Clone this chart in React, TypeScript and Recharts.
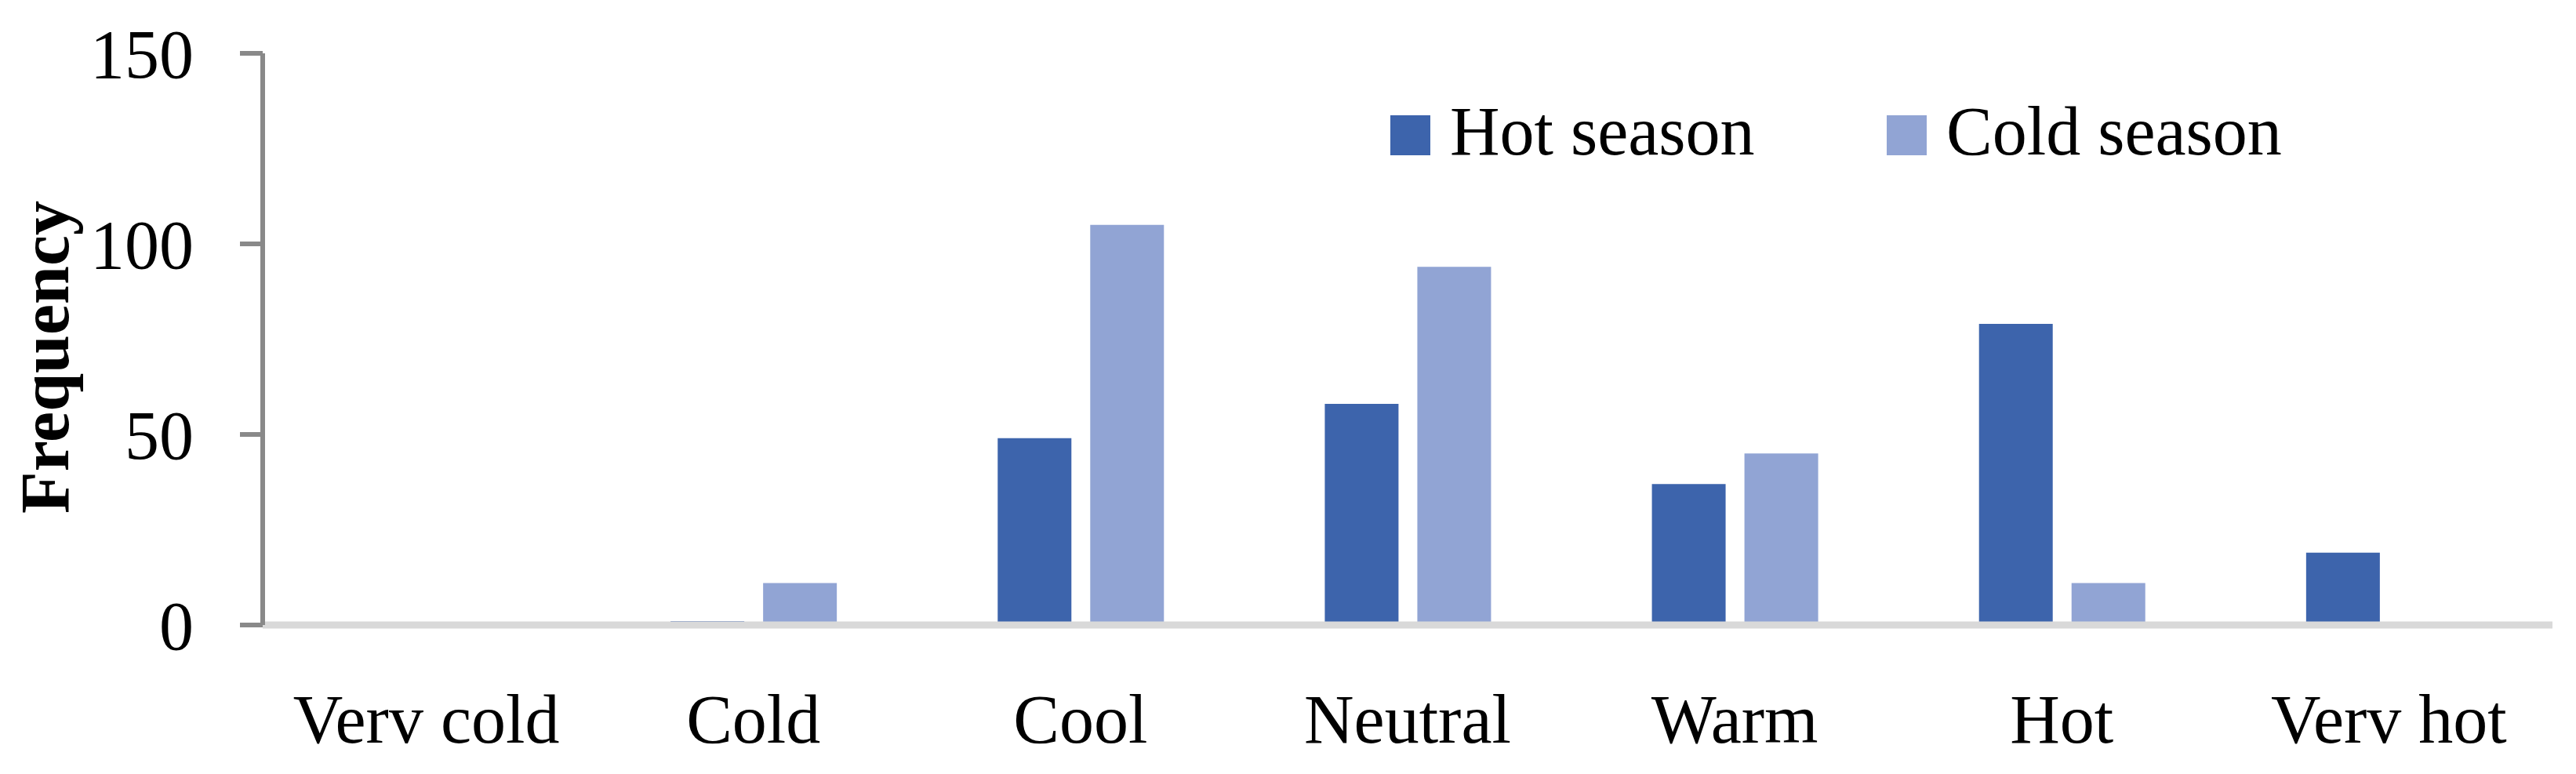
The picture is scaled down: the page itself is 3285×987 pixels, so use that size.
import React from 'react';
import { BarChart, Bar, XAxis, YAxis, Legend, Label } from 'recharts';

const categories = ['Verv cold', 'Cold', 'Cool', 'Neutral', 'Warm', 'Hot', 'Verv hot'];
const hotSeason = [0, 1, 49, 58, 37, 79, 19];
const coldSeason = [0, 11, 105, 94, 45, 11, 0];
const yTicks = [0, 50, 100, 150];
const seriesNames = ['Hot season', 'Cold season'];

const HOT = '#3D64AC';
const COLD = '#91A4D4';
const FONT = '"Liberation Serif", "Times New Roman", serif';

const data = categories.map((name, i) => ({
  name,
  hot: hotSeason[i],
  cold: coldSeason[i],
}));

const FreqLabel = (props: any) => {
  const vb = props.viewBox || { y: 68, height: 729 };
  const x = 87;
  const y = vb.y + vb.height / 2 + 23;
  return (
    <text
      x={x}
      y={y}
      transform={`rotate(-90 ${x} ${y})`}
      textAnchor="middle"
      fontFamily={FONT}
      fontWeight="bold"
      fontSize={88}
      fill="#000"
    >
      Frequency
    </text>
  );
};

const LegendBox = () => {
  const items = [
    { label: seriesNames[0], color: HOT, left: 1773 },
    { label: seriesNames[1], color: COLD, left: 2406 },
  ];
  return (
    <div style={{ position: 'relative', height: 0 }}>
      {items.map((it) => (
        <div
          key={it.label}
          style={{
            position: 'absolute',
            left: it.left,
            top: 128,
            height: 88,
            display: 'flex',
            alignItems: 'center',
            whiteSpace: 'nowrap',
          }}
        >
          <span style={{ width: 51, height: 51, background: it.color, marginRight: 25, display: 'inline-block' }} />
          <span style={{ fontFamily: FONT, fontSize: 88, lineHeight: 1, color: '#000', position: 'relative', top: -4 }}>
            {it.label}
          </span>
        </div>
      ))}
    </div>
  );
};

export default function App() {
  return (
    <div style={{ width: 3285, height: 987, background: '#fff' }}>
      <style>{`body{margin:0;background:#fff}`}</style>
      <BarChart
        width={3285}
        height={987}
        data={data}
        margin={{ top: 68, right: 30, bottom: 0, left: 0 }}
        barSize={94}
        barGap={24}
      >
        <XAxis
          dataKey="name"
          interval={0}
          height={190}
          axisLine={{ stroke: '#D9D9D9', strokeWidth: 9 }}
          tickLine={false}
          tickSize={0}
          tickMargin={88}
          tick={{ fontSize: 88, fill: '#000', fontFamily: FONT }}
        />
        <YAxis
          width={335}
          domain={[0, 150]}
          ticks={yTicks}
          interval={0}
          axisLine={{ stroke: '#898989', strokeWidth: 6 }}
          tickLine={{ stroke: '#898989', strokeWidth: 6 }}
          tickSize={29}
          tickMargin={59}
          tick={{ fontSize: 88, fill: '#000', fontFamily: FONT }}
        >
          <Label content={<FreqLabel />} />
        </YAxis>
        <Legend content={<LegendBox />} wrapperStyle={{ left: 0, top: 0, width: 3285, height: 0 }} />
        <Bar dataKey="hot" name={seriesNames[0]} fill={HOT} isAnimationActive={false} />
        <Bar dataKey="cold" name={seriesNames[1]} fill={COLD} isAnimationActive={false} />
      </BarChart>
    </div>
  );
}
